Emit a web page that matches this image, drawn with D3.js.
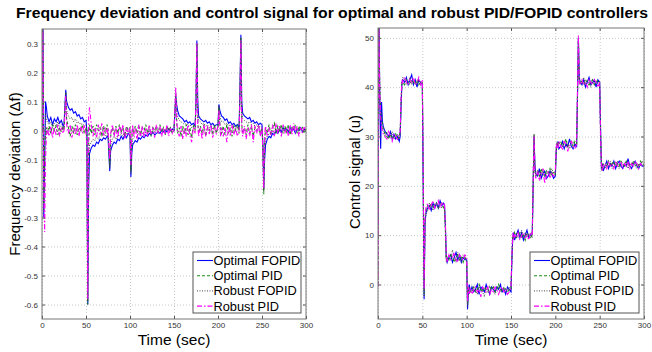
<!DOCTYPE html>
<html><head><meta charset="utf-8">
<script src="https://cdn.jsdelivr.net/npm/d3@7"></script>
<style>body{margin:0;background:#fff}</style>
</head><body><svg id="c" width="652" height="352"></svg>
<script>
const chartTitle = "Frequency deviation and control signal for optimal and robust PID/FOPID controllers";
const seriesNames = ["Optimal FOPID", "Optimal PID", "Robust FOPID", "Robust PID"];

const time = [
0,1,2,3,4,5,6,
8,10,12,14,16,18,20,22,24,
25,26,27,28,
30,32,34,36,38,40,42,44,46,48,50,
51,52,53,54,
56,58,60,62,64,66,68,70,72,74,
75,76,77,78,
80,82,84,86,88,90,92,94,96,98,100,
101,102,103,104,
106,108,110,112,114,116,118,120,122,124,126,128,130,132,134,136,138,140,142,144,146,148,150,
151,152,153,154,
156,158,160,162,164,166,168,170,172,174,
175,176,177,178,
180,182,184,186,188,190,192,194,196,198,200,
201,202,203,204,
206,208,210,212,214,216,218,220,222,224,
225,226,227,228,
230,232,234,236,238,240,242,244,246,248,250,
251,252,253,254,
256,258,260,262,264,266,268,270,272,274,276,278,280,282,284,286,288,290,292,294,296,298,300];

// Frequency deviation (Δf)
const freqOptimalFOPID = [
0,0.45,-0.3,-0.12,0.1,0.08,0.05,
0.03,0.045,0.02,0.04,0.03,0.045,0.025,0.035,0.015,
0.02,0.08,0.14,0.1,
0.08,0.07,0.075,0.06,0.065,0.05,0.055,0.04,0.045,0.03,0.035,
0,-0.6,-0.2,-0.08,
-0.06,-0.05,-0.055,-0.04,-0.045,-0.03,-0.035,-0.025,-0.03,-0.02,
-0.02,-0.08,-0.14,-0.07,
-0.05,-0.04,-0.045,-0.03,-0.035,-0.02,-0.03,-0.015,-0.025,-0.01,-0.02,
-0.16,-0.08,-0.05,-0.045,
-0.035,-0.04,-0.025,-0.03,-0.02,-0.025,-0.015,-0.02,-0.01,-0.015,-0.005,-0.015,-0.01,-0.005,-0.01,0,-0.005,0,-0.005,0.005,0,0.005,0,
0.06,0.12,0.09,0.07,
0.05,0.045,0.04,0.03,0.035,0.025,0.03,0.02,0.025,0.015,
0.1,0.31,0.1,0.05,
0.04,0.035,0.03,0.035,0.025,0.03,0.02,0.025,0.015,0.02,0.02,
0.09,0.07,0.06,0.05,
0.045,0.035,0.04,0.025,0.03,0.02,0.025,0.015,0.02,0.01,
0.15,0.33,0.1,0.06,
0.05,0.045,0.04,0.045,0.03,0.035,0.025,0.03,0.02,0.025,0.02,
-0.05,-0.2,-0.1,-0.05,
-0.03,-0.02,-0.025,-0.01,-0.015,0,-0.01,0.005,-0.005,0.01,0,0.005,-0.005,0.01,0,0.005,-0.01,0.005,0,0.01,-0.005,0.005,0];

const freqOptimalPID = [
0,0.42,-0.25,-0.05,-0.02,0.01,-0.01,
0.015,-0.01,0.02,0,0.015,-0.015,0.01,-0.005,0.015,
0,0.07,0.13,0.04,
0.01,-0.02,0.015,-0.01,0.02,-0.015,0.01,0,0.02,-0.01,0.01,
0,-0.6,-0.05,0.02,
-0.01,0.015,-0.015,0.02,0,0.01,-0.02,0.015,-0.01,0.02,
0,-0.06,-0.12,-0.02,
0.01,-0.015,0.015,-0.01,0.02,-0.005,0.01,-0.02,0.015,0,0.01,
-0.14,-0.03,0.01,-0.01,
0.015,-0.01,0.02,-0.015,0.01,0,0.02,-0.01,0.015,-0.02,0.01,0,0.015,-0.01,0.02,-0.005,0.01,-0.015,0.015,0,0.01,-0.01,0.005,
0.06,0.13,0.03,-0.01,
0.01,-0.02,0.015,-0.01,0.02,-0.015,0.01,-0.025,0.015,0,
0.1,0.3,0.03,-0.01,
0.015,-0.01,0.02,-0.02,0.01,0,0.015,-0.015,0.02,-0.01,0.01,
0.08,0.03,0,-0.01,
0.015,-0.015,0.02,-0.01,0.01,-0.02,0.015,0,0.02,-0.01,
0.14,0.32,0.02,-0.01,
0.01,-0.015,0.02,-0.01,0.015,-0.02,0.01,0,0.015,-0.01,0.01,
-0.06,-0.22,-0.04,0.01,
-0.01,0.02,-0.015,0.01,0.025,-0.01,0.015,0,0.02,-0.01,0.015,-0.005,0.02,-0.015,0.01,0.005,0.02,-0.01,0.015,0,0.01,-0.01,0.005];

const freqRobustFOPID = [
0,0.43,-0.28,-0.08,0.06,0.04,0.03,
0.02,0.03,0.01,0.025,0.015,0.03,0.01,0.02,0.005,
0.01,0.07,0.13,0.07,
0.05,0.04,0.045,0.03,0.04,0.025,0.03,0.02,0.025,0.015,0.02,
0,-0.59,-0.12,-0.05,
-0.04,-0.03,-0.035,-0.02,-0.03,-0.015,-0.02,-0.01,-0.02,-0.01,
-0.01,-0.07,-0.13,-0.05,
-0.03,-0.02,-0.03,-0.015,-0.02,-0.01,-0.02,-0.005,-0.015,0,-0.01,
-0.15,-0.06,-0.03,-0.025,
-0.02,-0.025,-0.01,-0.02,-0.01,-0.015,-0.005,-0.01,0,-0.01,0,-0.005,0.005,-0.005,0,0.005,-0.005,0.005,0,0.01,-0.005,0.005,0,
0.05,0.12,0.07,0.05,
0.035,0.03,0.025,0.02,0.025,0.015,0.02,0.01,0.015,0.005,
0.09,0.3,0.07,0.035,
0.03,0.02,0.025,0.015,0.02,0.01,0.015,0.005,0.01,0.005,0.01,
0.085,0.05,0.04,0.03,
0.03,0.02,0.025,0.015,0.02,0.01,0.015,0.005,0.01,0.005,
0.14,0.32,0.07,0.04,
0.035,0.03,0.025,0.03,0.02,0.025,0.015,0.02,0.01,0.015,0.01,
-0.04,-0.21,-0.07,-0.03,
-0.02,-0.01,-0.015,0,-0.01,0.005,-0.005,0.01,0,0.005,-0.005,0.01,0,0.005,-0.005,0.01,0,0.005,-0.005,0.01,0,0.005,0];

const freqRobustPID = [
0,0.4,-0.2,-0.35,-0.1,-0.02,0.01,
-0.02,0.015,-0.025,0.01,-0.015,0.02,-0.02,0.01,-0.01,
0,0.06,0.12,0.02,
-0.01,0.02,-0.025,0.01,-0.015,0.02,-0.02,0.015,-0.01,0.02,-0.01,
-0.05,-0.58,0.05,0.08,
0.02,-0.02,0.01,-0.025,0.02,-0.015,0.025,-0.02,0.01,-0.01,
0.01,-0.05,-0.1,-0.01,
0.02,-0.02,0.01,-0.025,0.015,-0.01,0.02,-0.03,0.01,-0.015,0.01,
-0.12,-0.01,0.02,-0.02,
0.01,-0.03,0.02,-0.02,0.015,-0.025,0.01,-0.02,0.02,-0.015,0.01,-0.025,0.02,-0.01,0.015,-0.02,0.01,-0.015,0.02,-0.02,0.01,-0.01,0.005,
0.07,0.15,0.04,0,
-0.02,0.015,-0.03,0.01,-0.02,0.02,-0.015,-0.04,0.01,-0.01,
0.12,0.3,0.02,-0.02,
0.01,-0.03,0.02,-0.02,0.015,-0.015,0.02,-0.025,0.01,-0.01,0.015,
0.07,0.02,-0.02,0.01,
-0.02,0.01,-0.04,0.015,-0.02,0.02,-0.015,0.01,-0.02,0,
0.12,0.31,0.01,-0.02,
0.015,-0.03,0.01,-0.02,0.02,-0.04,0.015,-0.01,0.02,-0.02,0.01,
-0.08,-0.2,-0.02,0.015,
-0.02,0.01,-0.015,0.02,-0.02,0.025,-0.01,0.015,-0.02,0.02,-0.01,0.01,-0.02,0.02,-0.015,0.025,-0.01,0.015,-0.02,0.01,-0.01,0.015,0];

// Control signal (u)
const ctrlOptimalFOPID = [
12,55,38,27.5,37,33,32,
31,30.5,30,31,29.5,30.5,29.5,30,29,
30,36,41,41.5,
41,42,40.5,41.5,42.5,40.5,41.5,40,41.5,41,40.5,
20,-3,12,14.5,
15.5,16,15,16.5,15.5,16.5,15.5,17,16,16.5,
16,12,5.5,4.5,
5.5,6,4.5,5.5,6.5,5,6,4.5,5.5,5,5,
-5,-1,0,-1.5,
-0.5,-1.5,-1,0,-2,-0.5,-1,-1.5,0,-1,-2,-0.5,-1,-1.5,-0.5,-1,0,-1.5,-1,-2,-0.5,-1,-1.5,
5,9.5,10.5,9,
10,11,9.5,10.5,9,10,11,9.5,10,10.5,
20,30,24,22.5,
22,23.5,21.5,22.5,23,21.5,22,23,22.5,21.5,22,
27,28.5,29,27.5,
28,29,27.5,28.5,28,29.5,28,27.5,28.5,28,
38,50,42,41,
40.5,41.5,40,41,42,40.5,41,41.5,40,41.5,41,
32,23.5,24.5,23,
24,25,23.5,24.5,24,25,23.5,24.5,25,24,23.5,24.5,24,25.5,24,23.5,24.5,25,24,23.5,24.5,24,24];

const ctrlOptimalPID = [
0,54,40,35,34,32.5,31.5,
30.5,30,29.5,30.5,29.5,30,30.5,29.5,30,
31,37,41,41,
40.5,41.5,41,40.5,41.5,41,40.5,41.5,40.5,41,41,
22,-2,13,15,
16,15.5,16.5,15.5,16,16.5,15.5,16,16.5,15.5,
15.5,11,5,5.5,
5,6,5.5,4.5,5.5,6,5,5.5,4.5,5.5,5,
-4,-0.5,-1,-1.5,
-1,-0.5,-1.5,-1,0,-1,-1.5,-0.5,-1,-1.5,-0.5,-1,-0.5,-1.5,-1,0,-1,-1.5,-0.5,-1,-1.5,-1,-1,
5.5,10,9.5,10.5,
9.5,10,10.5,9.5,10,9,10.5,10,9.5,10,
21,30.5,23,22,
23,22,23.5,22.5,22,23,22.5,23.5,22,23,22.5,
27.5,29,28,28.5,
29,28,28.5,29.5,28,28.5,29,28,29,28.5,
39,50,41,41.5,
41,40.5,41.5,41,40.5,41,41.5,40.5,41,41.5,41,
31,24,23.5,24.5,
24.5,24,25,24,24.5,25,24,24.5,24,25,24.5,24,25,24.5,24,24.5,25,24,24.5,24,25,24.5,24];

const ctrlRobustFOPID = [
0,53,39,33,33,31.5,31,
30,31,29.5,30,31,29.5,30,30.5,29.5,
30.5,36.5,40.5,42,
41.5,40.5,41,42,40.5,41.5,41,40.5,41.5,40.5,41,
21,-2.5,12.5,14,
15,16.5,16,15,16.5,16,15.5,16.5,15.5,16,
16,11.5,4.5,5,
6,5,7,5.5,4.5,6.5,5.5,4.5,6,5.5,4.5,
-4.5,-1.5,-0.5,-1,
-1.5,-0.5,-1,-2,-0.5,-1,-1.5,-2.5,-0.5,-1,-1.5,-0.5,-1,-2,-1,-0.5,-1.5,-1,-0.5,-1.5,-1,-0.5,-1,
5,9,10,9.5,
10.5,9.5,10,11,9.5,10.5,9.5,10,10.5,9.5,
20.5,30.5,23.5,22,
22.5,23,22,23.5,22,22.5,23,22,23.5,22.5,22,
27,28,28.5,29,
28.5,28,29,28,28.5,27.5,28.5,29,28,28.5,
38.5,49.5,41.5,40.5,
41,42,40.5,41.5,41,40,41.5,41,40.5,41,40.5,
31.5,23,24,24.5,
23.5,24.5,24,25,23.5,24,24.5,25,23.5,24,24.5,24,25,23.5,24.5,24,25,24,23.5,24.5,24,25,24];

const ctrlRobustPID = [
-0.5,52,39,34,32,31,30.5,
30,29.5,31,30,29,30.5,30,29.5,30.5,
31,37.5,41.5,41,
42,41,40.5,41.5,41,42,40.5,41,42,40.5,41.5,
23,-1,13.5,15.5,
16.5,15,16,17,15.5,16,17,15.5,16.5,16,
16.5,12.5,6,4.5,
6,5,5.5,6.5,5,4.5,6,5.5,5,6,5.5,
-3.5,-0.5,-2,-1,
-2,-1,-0.5,-1.5,-1,-2.5,-0.5,-1,-1.5,-0.5,-2,-1,-1.5,-0.5,-1,-2,-1,-0.5,-1.5,-1,-2,-1.5,-0.5,
6,10.5,9,10,
9.5,10.5,9,10,10.5,9.5,10,9,10.5,10,
21.5,30,22.5,21.5,
23,21,22.5,23.5,20.5,22,23,21.5,22.5,22,23,
28,28.5,27.5,29,
28,27.5,29,28.5,27,28.5,29,28,27.5,28.5,
39.5,50.5,41,40.5,
41.5,40.5,41,40,41.5,41,40.5,41.5,41,40,41,
30,24.5,23,24,
24.5,23.5,25,24,24.5,23.5,25,24,24.5,25,23.5,24.5,24,25,23.5,24.5,24,25,24.5,23.5,24.5,24,24];

const timeTicks = [0, 50, 100, 150, 200, 250, 300];
const freqTicks = [-0.6, -0.5, -0.4, -0.3, -0.2, -0.1, 0, 0.1, 0.2, 0.3];
const freqTickLabels = ["-0.6", "-0.5", "-0.4", "-0.3", "-0.2", "-0.1", "0", "0.1", "0.2", "0.3"];
const ctrlTicks = [0, 10, 20, 30, 40, 50];
const ctrlTickLabels = ["0", "10", "20", "30", "40", "50"];

// ---------- drawing ----------
const svg = d3.select("#c");
svg.append("rect").attr("width", 652).attr("height", 352).attr("fill", "#fff");
const FONT = "'Liberation Sans', Arial, sans-serif";

svg.append("text").text(chartTitle)
  .attr("x", 332).attr("y", 18).attr("text-anchor", "middle")
  .attr("font-family", FONT).attr("font-weight", "bold").attr("font-size", 14.5)
  .attr("textLength", 632).attr("lengthAdjust", "spacingAndGlyphs").attr("fill", "#000");

const styles = [
  { color: "#0000ff", dash: null, w: 1.1 },
  { color: "#1a8c1a", dash: "3,2", w: 1.1 },
  { color: "#444", dash: "1,1.5", w: 1.0 },
  { color: "#ff00ff", dash: "5,2,1.5,2", w: 1.1 }
];

function panel(cfg, idx) {
  const x = d3.scaleLinear().domain([0, 300]).range([cfg.left, cfg.right]);
  const y = d3.scaleLinear().domain(cfg.domain).range([cfg.bottom, cfg.top]);
  const g = svg.append("g");
  const W = cfg.right - cfg.left, H = cfg.bottom - cfg.top;

  // grid
  g.append("g").attr("transform", `translate(0,${cfg.bottom})`)
    .call(d3.axisBottom(x).tickValues(timeTicks).tickSize(-H).tickFormat(""))
    .call(a => a.select(".domain").remove())
    .call(a => a.selectAll("line").attr("stroke", "#c8c8c8").attr("stroke-dasharray", "1,2"));
  g.append("g").attr("transform", `translate(${cfg.left},0)`)
    .call(d3.axisLeft(y).tickValues(cfg.ticks).tickSize(-W).tickFormat(""))
    .call(a => a.select(".domain").remove())
    .call(a => a.selectAll("line").attr("stroke", "#c8c8c8").attr("stroke-dasharray", "1,2"));

  // lines
  const clipId = "clip" + idx;
  svg.append("clipPath").attr("id", clipId).append("rect")
    .attr("x", cfg.left).attr("y", cfg.top).attr("width", W).attr("height", H);
  const line = d3.line().x(d => x(d[0])).y(d => y(d[1]));
  cfg.series.forEach((vals, i) => {
    const pts = time.map((t, k) => [t, vals[k]]);
    g.append("path").datum(pts).attr("d", line)
      .attr("clip-path", `url(#${clipId})`)
      .attr("fill", "none").attr("stroke", styles[i].color)
      .attr("stroke-width", styles[i].w)
      .attr("stroke-dasharray", styles[i].dash);
  });

  // axes (inward ticks)
  const fmtMap = new Map(cfg.ticks.map((v, i) => [v, cfg.labels[i]]));
  const ax = d3.axisBottom(x).tickValues(timeTicks).tickSizeInner(-3).tickSizeOuter(0).tickPadding(3);
  g.append("g").attr("transform", `translate(0,${cfg.bottom})`).call(ax)
    .call(a => a.select(".domain").remove())
    .call(a => a.selectAll("text").attr("font-family", FONT).attr("font-size", 8).attr("fill", "#333"));
  g.append("g").attr("transform", `translate(0,${cfg.top})`)
    .call(d3.axisTop(x).tickValues(timeTicks).tickSizeInner(-3).tickSizeOuter(0).tickFormat(""))
    .call(a => a.select(".domain").remove());
  g.append("g").attr("transform", `translate(${cfg.left},0)`)
    .call(d3.axisLeft(y).tickValues(cfg.ticks).tickSizeInner(-3).tickSizeOuter(0).tickPadding(4).tickFormat(v => fmtMap.get(v)))
    .call(a => a.select(".domain").remove())
    .call(a => a.selectAll("text").attr("font-family", FONT).attr("font-size", 8).attr("fill", "#333"));
  g.append("g").attr("transform", `translate(${cfg.right},0)`)
    .call(d3.axisRight(y).tickValues(cfg.ticks).tickSizeInner(-3).tickSizeOuter(0).tickFormat(""))
    .call(a => a.select(".domain").remove());
  g.selectAll(".tick line").filter(function(){ return !this.getAttribute("stroke-dasharray"); })
    .attr("stroke", "#555");

  // frame
  g.append("rect").attr("x", cfg.left).attr("y", cfg.top).attr("width", W).attr("height", H)
    .attr("fill", "none").attr("stroke", "#777").attr("stroke-width", 1);

  // axis titles
  g.append("text").text("Time (sec)")
    .attr("x", (cfg.left + cfg.right) / 2).attr("y", 345).attr("text-anchor", "middle")
    .attr("font-family", FONT).attr("font-size", 15.5).attr("fill", "#000");
  g.append("text").text(cfg.ylabel)
    .attr("transform", `translate(${cfg.ylabelX},${cfg.ylabelY}) rotate(-90)`)
    .attr("text-anchor", "middle")
    .attr("font-family", FONT).attr("font-size", 15).attr("fill", "#000");

  // legend
  const L = cfg.legend;
  const lg = g.append("g");
  lg.append("rect").attr("x", L.x).attr("y", L.y).attr("width", L.w).attr("height", 61)
    .attr("fill", "#fff").attr("stroke", "#555").attr("stroke-width", 1);
  seriesNames.forEach((name, i) => {
    const cy = L.y + 8.5 + i * 15.2;
    lg.append("line").attr("x1", L.x + 4).attr("x2", L.x + 20).attr("y1", cy).attr("y2", cy)
      .attr("stroke", styles[i].color).attr("stroke-width", styles[i].w)
      .attr("stroke-dasharray", styles[i].dash);
    lg.append("text").text(name).attr("x", L.x + 20.5).attr("y", cy + 4.5)
      .attr("font-family", FONT).attr("font-size", 12.8).attr("fill", "#000");
  });
}

panel({ left: 42, right: 306, top: 29, bottom: 319, domain: [-0.65, 0.35],
  ticks: freqTicks, labels: freqTickLabels,
  series: [freqOptimalFOPID, freqOptimalPID, freqRobustFOPID, freqRobustPID],
  ylabel: "Frequency deviation (\u0394f)", ylabelX: 20, ylabelY: 174,
  legend: { x: 193, y: 252, w: 108 } }, 0);

panel({ left: 378, right: 644, top: 28, bottom: 319, domain: [-7, 52],
  ticks: ctrlTicks, labels: ctrlTickLabels,
  series: [ctrlOptimalFOPID, ctrlOptimalPID, ctrlRobustFOPID, ctrlRobustPID],
  ylabel: "Control signal (u)", ylabelX: 360, ylabelY: 172,
  legend: { x: 530, y: 252, w: 109 } }, 1);

const all = [freqOptimalFOPID, freqOptimalPID, freqRobustFOPID, freqRobustPID,
  ctrlOptimalFOPID, ctrlOptimalPID, ctrlRobustFOPID, ctrlRobustPID];
const bad = all.map((a, i) => [i, a.length]).filter(d => d[1] !== time.length);
if (bad.length) throw new Error("length mismatch " + JSON.stringify(bad) + " vs " + time.length);
</script></body></html>
